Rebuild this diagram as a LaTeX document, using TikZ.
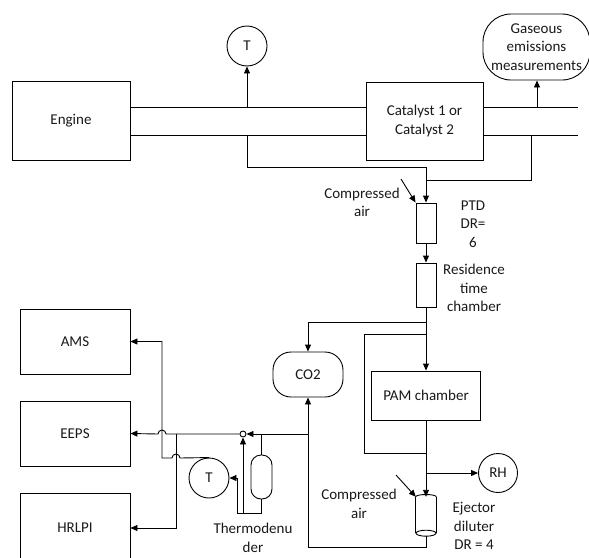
\documentclass[tikz,border=0pt]{standalone}
\usepackage{fontspec}
\setmainfont{Carlito}
\usetikzlibrary{arrows.meta,positioning,shapes.geometric}

\begin{document}
\begin{tikzpicture}[
    x=1pt, y=-1pt,
    font=\fontsize{15}{18.5}\selectfont,
    every node/.style={text=black!90},
    box/.style={draw, align=center, line width=0.9pt},
    rbox/.style={draw, rounded corners=18pt, align=center, inner sep=0pt, line width=0.9pt},
    sensor/.style={draw, circle, minimum size=40pt, inner sep=0pt, line width=0.9pt},
    tube/.style={draw, minimum width=20pt, inner sep=0pt, line width=0.9pt},
    lbl/.style={align=center, inner sep=0pt},
    arr/.style={-{Triangle[length=7pt,width=6pt]}, line width=0.9pt},
    pipe/.style={line width=0.9pt}
]
\useasboundingbox (0,0) rectangle (589,557);
\clip (0,0) rectangle (589,557);

% exhaust line
\node[box, minimum width=118pt, minimum height=79pt] (engine) at (71,121) {Engine};
\node[box, minimum width=117pt, minimum height=78pt] (cat) at (424.5,121) {Catalyst 1 or\\Catalyst 2};
\node[sensor] (ttop) at (247,46) {T};
\node[rbox, rounded corners=28pt, minimum width=107pt, minimum height=66pt] (gas) at (536.5,47) {Gaseous\\emissions\\measurements};

\draw[pipe] ([yshift=14pt]engine.east) -- ([yshift=14pt]cat.west);
\draw[pipe] ([yshift=-14pt]engine.east) -- ([yshift=-14pt]cat.west);
\draw[pipe] ([yshift=14pt]cat.east) -- ++(95,0);
\draw[pipe] ([yshift=-14pt]cat.east) -- ++(95,0);

\coordinate (tap1) at (247,107);
\coordinate (tap2) at (537,107);
\coordinate (tap3) at (247,135);
\coordinate (tap4) at (531,135);
\draw[arr] (tap1) -- (ttop);
\draw[arr] (tap2) -- (tap2 |- gas.south);

% dilution and chambers
\node[tube, minimum height=40pt] (ptd) at (426,223) {};
\node[tube, minimum height=44pt] (res) at (426,285) {};
\node[box, minimum width=109pt, minimum height=49pt] (pam) at (426,395.5) {PAM chamber};
\node[rbox, minimum width=70pt, minimum height=45pt] (co2) at (308,374.5) {CO2};
\node[sensor, minimum size=39pt] (rh) at (498,473) {RH};
\node[minimum width=20pt, minimum height=39pt, inner sep=0pt] (ej) at (426,516.5) {};

\coordinate (j1) at (426,180);
\draw[arr] (tap3) -- ++(0,32) -| (ptd.north);
\draw[pipe] (tap4) |- (j1);
\coordinate (air1) at (401,179);
\draw[arr] (air1) -- (ptd.north west);
\node[lbl] (airlbl1) at (362,202.5) {Compressed\\air};
\node[lbl] (ptdlbl) at (473,224) {PTD\\DR=\\6};
\draw[arr] (ptd) -- (res);
\node[lbl] (reslbl) at (474,288) {Residence\\time\\chamber};
\draw[arr] (res) -- (pam);

\coordinate (j2) at (426,322);
\coordinate (j3) at (426,334);
\coordinate (j4) at (426,453);
\draw[arr] (j2) -| (co2.north);
\draw[pipe] (j3) -- ++(-62,0) |- (j4);

% ejector diluter
\draw[pipe] (ej.north west) .. controls +(0,-3) and +(0,-3) .. (ej.north east);
\draw[pipe] (ej.north west) -- ([yshift=3pt]ej.south west);
\draw[pipe] (ej.north east) -- ([yshift=3pt]ej.south east);
\draw[pipe] ([yshift=3pt]ej.south) ellipse [x radius=10pt, y radius=3pt];
\draw[arr] (pam) -- (ej.north);
\coordinate (j5) at (426,473);
\draw[arr] (j5) -- (rh);
\coordinate (air2) at (396,475);
\draw[arr] (air2) -- (ej.north west);
\node[lbl] (airlbl2) at (359,504) {Compressed\\air};
\node[lbl] (ejlbl) at (474,526) {Ejector\\diluter\\DR = 4};
\draw[arr] (ej.south) -- ++(0,11) -| (co2.south);

% instruments
\node[box, minimum width=110pt, minimum height=65pt] (ams) at (75,341.5) {AMS};
\node[box, minimum width=110pt, minimum height=65pt] (eeps) at (75,433.5) {EEPS};
\node[box, minimum width=110pt, minimum height=70pt] (hrlpi) at (75,528) {HRLPI};
\node[circle, draw, line width=0.9pt, inner sep=0pt, minimum size=6pt] (valve) at (243,434) {};
\node[sensor] (tbot) at (209,478) {T};
\node[rbox, rounded corners=10pt, minimum width=21pt, minimum height=44pt] (td) at (261.5,477) {};
\node[lbl] (tdlbl) at (253,538) {Thermodenu\\der};

\coordinate (j6) at (308,434);
\coordinate (hop1) at (166,434);
\coordinate (j7) at (176,434);
\coordinate (hop2) at (180,458);
\coordinate (amsup) at (162,458);
\coordinate (j8) at (261.5,434);
\coordinate (tdb) at (261.5,513);
\coordinate (tdl) at (237,513);
\coordinate (vin) at (243,513);

\draw[arr] (j6) -- (valve);
\draw[arr] (valve) -- (hop1) arc[start angle=0, end angle=180, radius=4pt] -- (eeps.east);
\draw[arr] (j7) |- (hrlpi.east);
\draw[arr] (tbot.north) -- (hop2) arc[start angle=0, end angle=180, radius=4pt] -- (amsup) |- (ams.east);
\draw[pipe] (j8) -- (td);
\draw[arr] (td) -- (tdb) -- (tdl) |- (tbot.east);
\draw[arr] (vin) -- (valve);
\end{tikzpicture}
\end{document}
